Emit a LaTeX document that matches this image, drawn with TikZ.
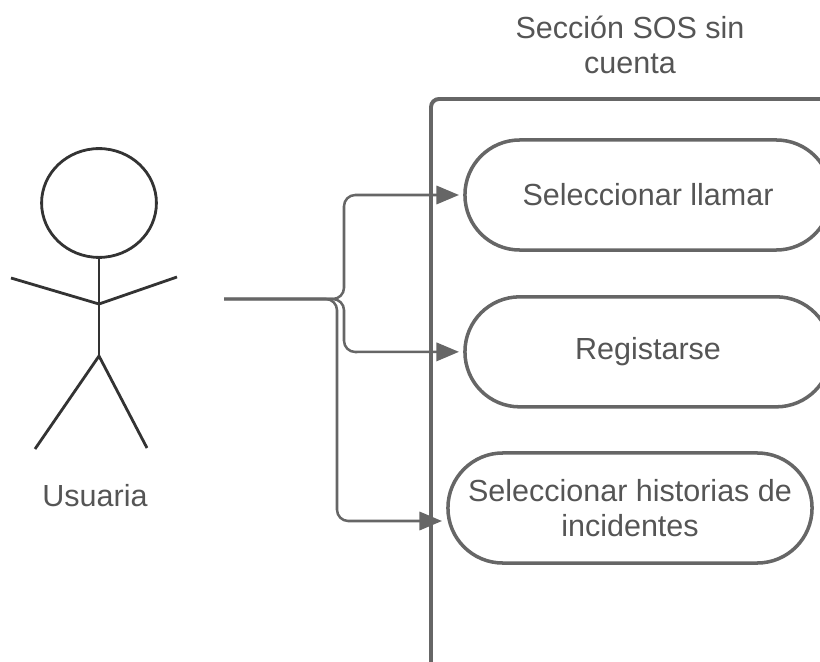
\documentclass[tikz,border=0pt]{standalone}
\usepackage{fontspec}
\setmainfont{Liberation Sans}
\usetikzlibrary{arrows.meta,shapes.geometric}
\definecolor{linegray}{HTML}{666666}
\definecolor{textgray}{HTML}{555555}
\definecolor{figgray}{HTML}{333333}
\begin{document}
\begin{tikzpicture}[x=0.025cm, y=-0.025cm, node distance={3.92cm},
    usecase/.style = {draw=linegray, line width=2.5pt, rounded corners=1.37cm, minimum width=9.15cm, minimum height=2.75cm, align=center, text=textgray, font=\fontsize{21.7}{25}\selectfont},
    label/.style = {text=textgray, align=center, font=\fontsize{21.7}{25}\selectfont},
    body/.style = {draw=figgray, line width=2pt},
    link/.style = {draw=linegray, line width=1.8pt, rounded corners=0.28cm, -{Triangle[length=16pt, width=13pt, fill=linegray]}, shorten >=3pt}]
    \useasboundingbox (0,0) rectangle (820,662);

    \node[label] (title) at (630,45) {Sección SOS sin\\[0pt]cuenta};
    \draw[draw=linegray, line width=2.8pt, rounded corners=0.2cm] (431,680) -- (431,99) -- (840,99);

    \node[usecase] (llamar) at (648,195) {Seleccionar llamar};
    \node[usecase] (registro) [below of=llamar] {Registarse};
    \node[usecase, minimum width=9.1cm] (historias) at (630,508) {Seleccionar historias de\\[0pt]incidentes};

    % stick figure
    \node[draw=figgray, line width=2pt, ellipse, minimum width=2.87cm, minimum height=2.72cm] (head) at (99,203) {};
    \coordinate (hip) at (99,356);
    \coordinate (chest) at (99,304);
    \coordinate (handl) at (11,278);
    \coordinate (handr) at (177,277);
    \coordinate (footl) at (35,449);
    \coordinate (footr) at (147,448);
    \draw[body] (head) -- (hip);
    \draw[body] (handl) -- (chest) -- (handr);
    \draw[body] (footl) -- (hip) -- (footr);
    \node[label] (usuaria) at (95,496) {Usuaria};

    \coordinate (start) at (224,299);
    \draw[link] (start) -- (344,299) -- (344,195) -- (llamar.west);
    \draw[link] (start) -- (344,299) -- (344,352) -- (registro.west);
    \draw[link] (start) -- (337,299) -- (337,521) -- ([yshift=-0.325cm]historias.west);
\end{tikzpicture}
\end{document}
